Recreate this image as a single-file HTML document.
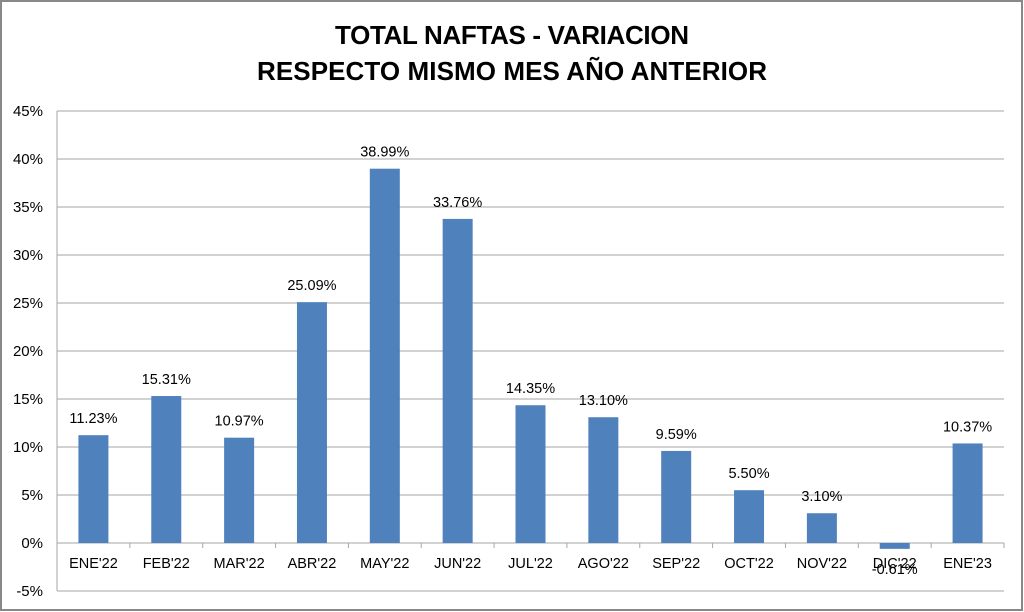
<!DOCTYPE html>
<html><head><style>body{margin:0;background:#fff}svg{display:block}</style></head><body>
<svg width="1024" height="612" xmlns="http://www.w3.org/2000/svg" font-family="Liberation Sans, sans-serif">
<rect x="1" y="1" width="1021" height="609" fill="#fff" stroke="#888" stroke-width="2"/>
<text x="512" y="44" text-anchor="middle" font-size="26" font-weight="bold" textLength="354">TOTAL NAFTAS - VARIACION</text>
<text x="512" y="80" text-anchor="middle" font-size="26" font-weight="bold" textLength="510">RESPECTO MISMO MES AÑO ANTERIOR</text>
<g stroke="#a6a6a6" stroke-width="1">
<line x1="57" y1="111" x2="1004" y2="111"/><line x1="57" y1="159" x2="1004" y2="159"/>
<line x1="57" y1="207" x2="1004" y2="207"/><line x1="57" y1="255" x2="1004" y2="255"/>
<line x1="57" y1="303" x2="1004" y2="303"/><line x1="57" y1="351" x2="1004" y2="351"/>
<line x1="57" y1="399" x2="1004" y2="399"/><line x1="57" y1="447" x2="1004" y2="447"/>
<line x1="57" y1="495" x2="1004" y2="495"/><line x1="57" y1="543" x2="1004" y2="543"/>
<line x1="57" y1="591" x2="1004" y2="591"/>
<line x1="57" y1="111" x2="57" y2="591"/>
</g>
<g font-size="15" text-anchor="end" fill="#000">
<text x="43" y="116">45%</text><text x="43" y="164">40%</text><text x="43" y="212">35%</text>
<text x="43" y="260">30%</text><text x="43" y="308">25%</text><text x="43" y="356">20%</text>
<text x="43" y="404">15%</text><text x="43" y="452">10%</text><text x="43" y="500">5%</text>
<text x="43" y="548">0%</text><text x="43" y="596">-5%</text>
</g>
<g id="bars" fill="#4f81bd"></g>
<g id="lbl" font-size="14.5" text-anchor="middle"></g>
<g id="ticks" stroke="#a6a6a6"></g>
</svg>
<script>
var v=[11.23,15.31,10.97,25.09,38.99,33.76,14.35,13.10,9.59,5.50,3.10,-0.61,10.37];
var n=["ENE'22","FEB'22","MAR'22","ABR'22","MAY'22","JUN'22","JUL'22","AGO'22","SEP'22","OCT'22","NOV'22","DIC'22","ENE'23"];
var ns="http://www.w3.org/2000/svg",w=(1004-57)/13,s=9.6,z=543;
function el(t,a,p,tx){var e=document.createElementNS(ns,t);for(var k in a)e.setAttribute(k,a[k]);if(tx)e.textContent=tx;document.getElementById(p).appendChild(e);}
for(var i=0;i<13;i++){var c=57+w*(i+0.5),h=v[i]*s;
el("rect",{x:c-15,y:h>=0?z-h:z,width:30,height:Math.abs(h)},"bars");
el("text",{x:c,y:z+25},"lbl",n[i]);
el("text",{x:c,y:h>=0?z-h-12:z+31},"lbl",v[i].toFixed(2)+"%");
var tx=57+w*(i+1);el("line",{x1:tx,y1:543,x2:tx,y2:548},"ticks");}
</script>
</body></html>
